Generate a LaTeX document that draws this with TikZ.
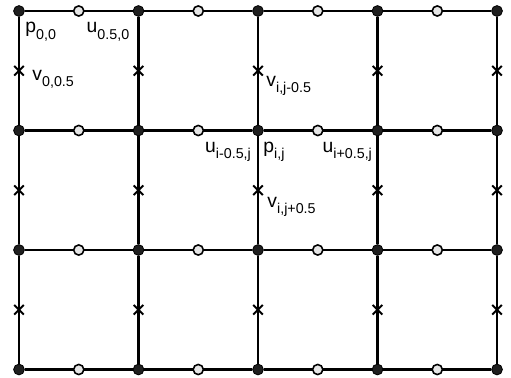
\documentclass[tikz,border=0pt]{standalone}
\usepackage{fontspec}
\setmainfont{Liberation Sans}
\usetikzlibrary{shapes.misc,calc}
\newcommand{\gridlab}[2]{#1\raisebox{-2.9pt}{\fontsize{6.8}{7}\selectfont #2}}

\begin{document}
\begin{tikzpicture}[
  pnode/.style={circle,fill=black!88,draw=black,minimum size=0.18cm,inner sep=0pt},
  unode/.style={circle,fill=black!10,draw=black,line width=0.75pt,minimum size=0.17cm,inner sep=0pt},
  vnode/.style={cross out,draw=black,line width=0.9pt,minimum size=0.13cm,inner sep=0pt},
  gline/.style={line width=1.1pt},
  lab/.style={anchor=base west,inner sep=0pt,font=\fontsize{9.2}{10}\selectfont}]
\useasboundingbox (-0.318,0.184) rectangle (8.234,-6.142);
% pressure points
\foreach \i in {0,...,4}
  \foreach \j in {0,...,3}
    \node[pnode] (p-\i-\j) at (2*\i,-2*\j) {};
% horizontal lines and u points
\foreach \i [count=\k] in {0,...,3}
  \foreach \j in {0,...,3}
    \draw[gline] (p-\i-\j) -- (p-\k-\j);
\foreach \i [count=\k] in {0,...,3}
  \foreach \j in {0,...,3}
    \node[unode] (u-\i-\j) at ($(p-\i-\j)!0.5!(p-\k-\j)$) {};
% vertical lines and v points
\foreach \i in {0,...,4}
  \foreach \j [count=\k] in {0,...,2}
    \draw[gline] (p-\i-\j) -- (p-\i-\k);
\foreach \i in {0,...,4}
  \foreach \j [count=\k] in {0,...,2}
    \node[vnode] (v-\i-\j) at ($(p-\i-\j)!0.5!(p-\i-\k)$) {};
% labels
\node[lab] (l-p00) at ([shift={(0.100,-0.368)}]p-0-0) {\gridlab{p}{0,0}};
\node[lab] (l-u00) at ([shift={(0.126,-0.368)}]u-0-0) {\gridlab{u}{0.5,0}};
\node[lab] (l-v00) at ([shift={(0.218,-0.167)}]v-0-0) {\gridlab{v}{0,0.5}};
\node[lab] (l-vup) at ([shift={(0.134,-0.268)}]v-2-0) {\gridlab{v}{i,j-0.5}};
\node[lab] (l-uleft) at ([shift={(0.109,-0.368)}]u-1-1) {\gridlab{u}{i-0.5,j}};
\node[lab] (l-pij) at ([shift={(0.084,-0.368)}]p-2-1) {\gridlab{p}{i,j}};
\node[lab] (l-uright) at ([shift={(0.075,-0.368)}]u-2-1) {\gridlab{u}{i+0.5,j}};
\node[lab] (l-vdown) at ([shift={(0.151,-0.285)}]v-2-1) {\gridlab{v}{i,j+0.5}};
\end{tikzpicture}
\end{document}
